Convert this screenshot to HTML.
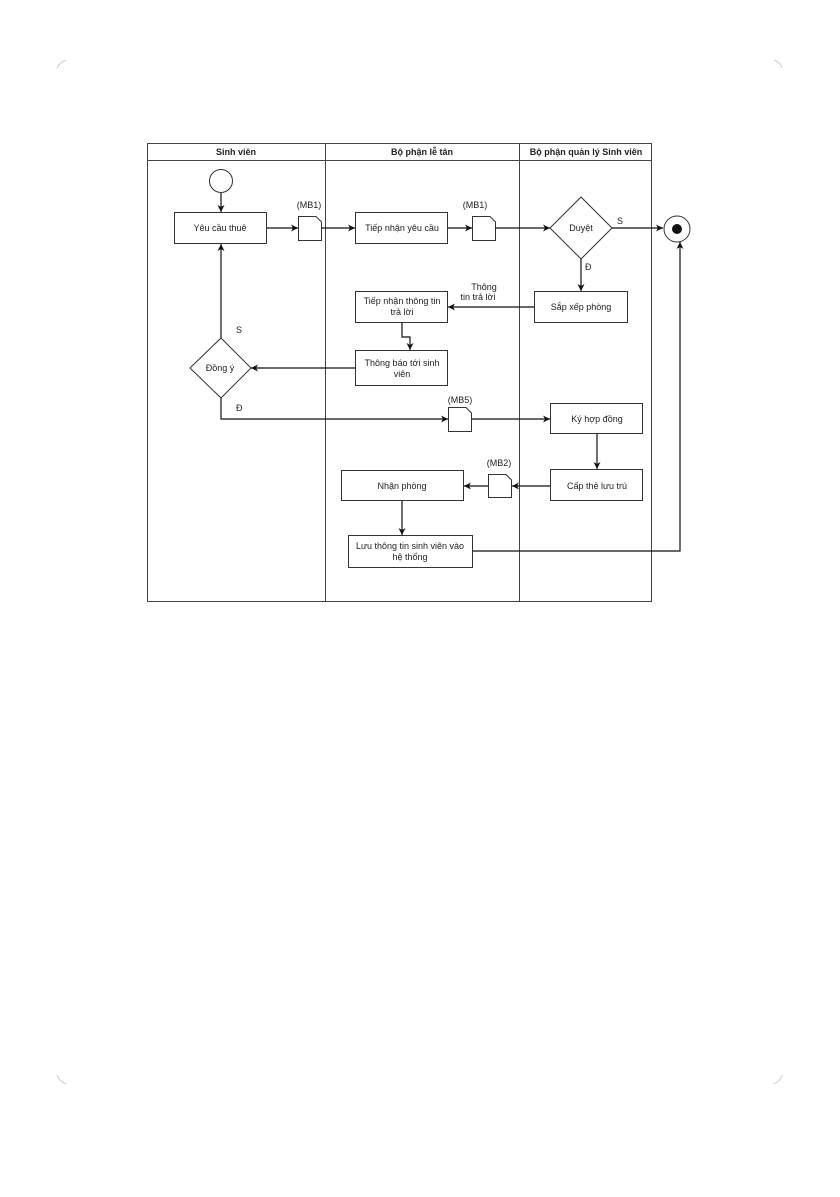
<!DOCTYPE html>
<html><head><meta charset="utf-8"><style>
html,body{margin:0;padding:0;background:#fff;}
svg text{font-family:"Liberation Sans",sans-serif;font-size:9px;fill:#222;}
</style></head><body>
<svg width="840" height="1192" viewBox="0 0 840 1192" xmlns="http://www.w3.org/2000/svg">
<defs><marker id="a" markerWidth="8" markerHeight="8" refX="7" refY="4" orient="auto" markerUnits="userSpaceOnUse"><path d="M0,0.5 L7,4 L0,7.5 L2,4 Z" fill="#111"/></marker></defs>
<g stroke="#ccc" fill="none" stroke-width="1">
<path d="M57,68 Q60,62 66,60"/><path d="M774,60 Q780,62 782,68"/><path d="M57,1075 Q60,1082 66,1084"/><path d="M774,1084 Q780,1082 782,1075"/>
</g>
<g fill="none" stroke="#444" stroke-width="1">
<rect x="147.5" y="143.5" width="504" height="458"/>
<line x1="147" y1="160.5" x2="652" y2="160.5"/>
<line x1="325.5" y1="143" x2="325.5" y2="602"/>
<line x1="519.5" y1="143" x2="519.5" y2="602"/>
</g>
<g font-weight="bold" text-anchor="middle">
<text x="236" y="155" font-weight="bold">Sinh viên</text>
<text x="422" y="155" font-weight="bold">Bộ phận lễ tân</text>
<text x="586" y="155" font-weight="bold">Bộ phận quản lý Sinh viên</text>
</g>
<g fill="#fff" stroke="#333" stroke-width="1">
<circle cx="221" cy="181" r="11.5"/>
<rect x="174.5" y="212.5" width="92" height="31"/>
<rect x="355.5" y="212.5" width="92" height="31"/>
<polygon points="581,197 612,228 581,259 550,228"/>
<circle cx="677" cy="229" r="13"/>
<rect x="534.5" y="291.5" width="93" height="31"/>
<rect x="355.5" y="291.5" width="92" height="31"/>
<rect x="355.5" y="350.5" width="92" height="35"/>
<polygon points="221,338 251,368 221,398 190,368"/>
<rect x="550.5" y="403.5" width="92" height="30"/>
<rect x="550.5" y="469.5" width="92" height="31"/>
<rect x="341.5" y="470.5" width="122" height="30"/>
<rect x="348.5" y="535.5" width="124" height="32"/>
<path d="M298.5,216.5 H316 L321.5,222 V240.5 H298.5 Z"/>
<path d="M472.5,216.5 H490 L495.5,222 V240.5 H472.5 Z"/>
<path d="M448.5,407.5 H466 L471.5,413 V431.5 H448.5 Z"/>
<path d="M488.5,474.5 H506 L511.5,480 V497.5 H488.5 Z"/>
</g>
<circle cx="677" cy="229" r="5" fill="#111"/>
<g fill="none" stroke="#111" stroke-width="1.2">
<line x1="221" y1="193" x2="221" y2="212" marker-end="url(#a)"/>
<line x1="267" y1="228" x2="298" y2="228" marker-end="url(#a)"/>
<line x1="321" y1="228" x2="355" y2="228" marker-end="url(#a)"/>
<line x1="448" y1="228" x2="472" y2="228" marker-end="url(#a)"/>
<line x1="495" y1="228" x2="550" y2="228" marker-end="url(#a)"/>
<line x1="612" y1="228" x2="663" y2="228" marker-end="url(#a)"/>
<line x1="581" y1="259" x2="581" y2="291" marker-end="url(#a)"/>
<line x1="534" y1="307" x2="448" y2="307" marker-end="url(#a)"/>
<path d="M402,323 V337 H410 V350" marker-end="url(#a)"/>
<line x1="355" y1="368" x2="251" y2="368" marker-end="url(#a)"/>
<line x1="221" y1="338" x2="221" y2="244" marker-end="url(#a)"/>
<path d="M221,398 V419 H448" marker-end="url(#a)"/>
<line x1="472" y1="419" x2="550" y2="419" marker-end="url(#a)"/>
<line x1="597" y1="434" x2="597" y2="469" marker-end="url(#a)"/>
<line x1="550" y1="486" x2="512" y2="486" marker-end="url(#a)"/>
<line x1="488" y1="486" x2="464" y2="486" marker-end="url(#a)"/>
<line x1="402" y1="501" x2="402" y2="535" marker-end="url(#a)"/>
<path d="M473,551 H680 V242" marker-end="url(#a)"/>
</g>
<g text-anchor="middle">
<text x="220" y="231">Yêu cầu thuê</text>
<text x="402" y="231">Tiếp nhận yêu cầu</text>
<text x="581" y="231">Duyệt</text>
<text x="581" y="310">Sắp xếp phòng</text>
<text x="402" y="304">Tiếp nhận thông tin</text>
<text x="402" y="315">trả lời</text>
<text x="402" y="366">Thông báo tới sinh</text>
<text x="402" y="377">viên</text>
<text x="220" y="371">Đồng ý</text>
<text x="597" y="422">Ký hợp đồng</text>
<text x="597" y="489">Cấp thẻ lưu trú</text>
<text x="402" y="489">Nhận phòng</text>
<text x="410" y="549">Lưu thông tin sinh viên vào</text>
<text x="410" y="560">hệ thống</text>
<text x="309" y="208">(MB1)</text>
<text x="475" y="208">(MB1)</text>
<text x="460" y="403">(MB5)</text>
<text x="499" y="466">(MB2)</text>
<text x="484" y="290">Thông</text>
<text x="478" y="300">tin trả lời</text>
</g>
<text x="617" y="224">S</text>
<text x="585" y="270">Đ</text>
<text x="236" y="333">S</text>
<text x="236" y="411">Đ</text>
</svg>
</body></html>
